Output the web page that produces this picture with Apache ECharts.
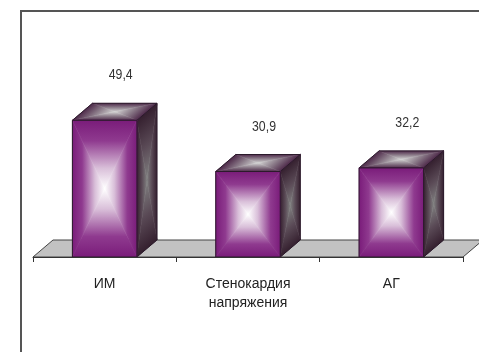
<!DOCTYPE html>
<html>
<head>
<meta charset="utf-8">
<script src="https://cdn.jsdelivr.net/npm/echarts@6/dist/echarts.min.js"></script>
<style>
  html, body { margin: 0; padding: 0; background: #fff; }
  #chart { width: 479px; height: 352px; }
</style>
</head>
<body>
<div id="chart"></div>
<script>
// Categories and values (percent)
const categories = ['ИМ', 'Стенокардия\nнапряжения', 'АГ'];
const values = [49.4, 30.9, 32.2];

const FONT = "'Liberation Sans Narrow', 'Arial Narrow', 'Liberation Sans', Arial, sans-serif";
// 3D depth offset of bars and floor, in pixels
const DX = 20, DY = -17;

// Project point c onto the line through a and b
function foot(a, b, c) {
  const vx = b[0] - a[0], vy = b[1] - a[1];
  const t = ((c[0] - a[0]) * vx + (c[1] - a[1]) * vy) / (vx * vx + vy * vy);
  return [a[0] + t * vx, a[1] + t * vy];
}

// Quad face with a rectangular "from center" gradient: four triangles,
// each shaded from its edge toward the face centre.
function gradientFace(pts, stops) {
  const c = [
    (pts[0][0] + pts[1][0] + pts[2][0] + pts[3][0]) / 4,
    (pts[0][1] + pts[1][1] + pts[2][1] + pts[3][1]) / 4
  ];
  const out = [];
  for (let i = 0; i < 4; i++) {
    const a = pts[i], b = pts[(i + 1) % 4];
    const p = foot(a, b, c);
    const grad = {
      type: 'linear', x: p[0], y: p[1], x2: c[0], y2: c[1], global: true,
      colorStops: stops
    };
    out.push({
      type: 'polygon',
      shape: { points: [a, b, c] },
      style: { fill: grad, stroke: grad, lineWidth: 0.6 }
    });
  }
  out.push({
    type: 'polygon',
    shape: { points: pts },
    style: { fill: null, stroke: '#2b1a2b', lineWidth: 1 }
  });
  return out;
}

const frontStops = [
  { offset: 0, color: '#7a1c7a' },
  { offset: 0.3, color: '#8f3a8f' },
  { offset: 0.7, color: '#d9bfd9' },
  { offset: 1, color: '#ffffff' }
];
const sideStops = [
  { offset: 0, color: '#35202f' },
  { offset: 0.5, color: '#5a4a56' },
  { offset: 1, color: '#808080' }
];
const topStops = [
  { offset: 0, color: '#4e2a4a' },
  { offset: 0.5, color: '#8e7f8c' },
  { offset: 1, color: '#d2d2d2' }
];

function fmt(v) { return String(v).replace('.', ','); }

const chart = echarts.init(document.getElementById('chart'), null, { renderer: 'canvas' });

chart.setOption({
  animation: false,
  backgroundColor: '#ffffff',
  grid: { left: 33, right: 16, top: 91, bottom: 95 },
  xAxis: {
    type: 'category',
    data: categories,
    boundaryGap: true,
    axisLine: { show: true, lineStyle: { color: '#333', width: 1 } },
    axisTick: { show: true, length: 5, lineStyle: { color: '#333' } },
    axisLabel: {
      margin: 18,
      color: '#222',
      fontFamily: FONT,
      fontSize: 14,
      lineHeight: 19
    },
    splitLine: { show: false },
    z: 5
  },
  yAxis: { type: 'value', min: 0, max: 60, show: false },
  graphic: [{
    type: 'polyline',
    shape: { points: [[21, 352], [21, 11], [479, 11]] },
    style: { stroke: '#555', lineWidth: 2, fill: null },
    z: 10
  }],
  series: [
    {
      // floor plane under the bars
      type: 'custom',
      data: [0],
      z: 1,
      renderItem: function (params, api) {
        const cs = params.coordSys;
        const y = cs.y + cs.height;
        const x0 = cs.x, x1 = cs.x + cs.width;
        return {
          type: 'polygon',
          shape: { points: [[x0, y], [x1, y], [x1 + DX, y + DY], [x0 + DX, y + DY]] },
          style: { fill: '#c2c2c2', stroke: '#444', lineWidth: 1 }
        };
      }
    },
    {
      type: 'custom',
      z: 2,
      data: values.map((v, i) => [i, v]),
      encode: { x: 0, y: 1 },
      renderItem: function (params, api) {
        const idx = api.value(0);
        const v = api.value(1);
        const base = api.coord([idx, 0]);
        const top = api.coord([idx, v]);
        const w = api.size([1, 0])[0] * 0.45;
        const xl = base[0] - w / 2, xr = base[0] + w / 2;
        const yb = base[1], yt = top[1];
        const front = [[xl, yt], [xr, yt], [xr, yb], [xl, yb]];
        const side = [[xr, yt], [xr + DX, yt + DY], [xr + DX, yb + DY], [xr, yb]];
        const topFace = [[xl, yt], [xl + DX, yt + DY], [xr + DX, yt + DY], [xr, yt]];
        const children = []
          .concat(gradientFace(side, sideStops))
          .concat(gradientFace(topFace, topStops))
          .concat(gradientFace(front, frontStops));
        const lx = base[0] + 16, ly = yt - 45;
        children.push({
          type: 'text',
          x: lx,
          y: ly,
          scaleX: 0.82,
          style: {
            text: fmt(v),
            x: 0,
            y: 0,
            fill: '#333',
            fontFamily: FONT,
            fontSize: 15,
            align: 'center',
            verticalAlign: 'middle'
          }
        });
        return { type: 'group', children: children };
      }
    }
  ]
});
</script>
</body>
</html>
